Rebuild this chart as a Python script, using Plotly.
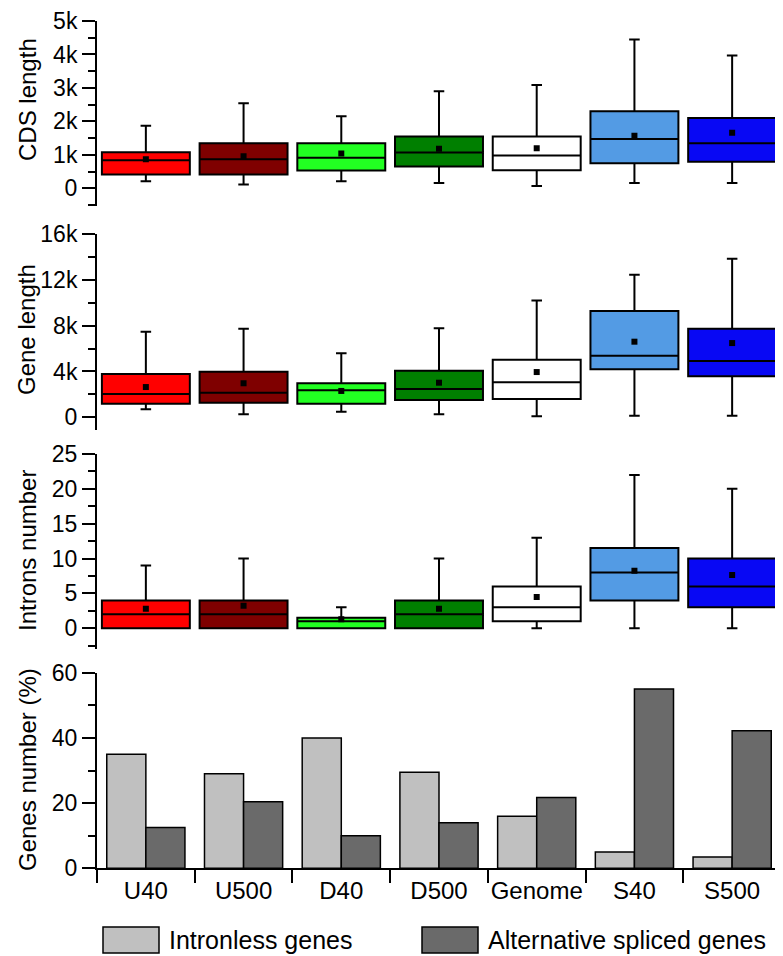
import plotly.graph_objects as go

categories = ["U40", "U500", "D40", "D500", "Genome", "S40", "S500"]
box_colors = ["#FF0000", "#7F0000", "#22FF22", "#007F00", "#FFFFFF", "#539BE4", "#0808F4"]

# CDS length
cds_low = [210, 110, 210, 160, 70, 160, 160]
cds_q1 = [410, 410, 530, 650, 540, 750, 790]
cds_med = [840, 870, 910, 1070, 980, 1470, 1350]
cds_q3 = [1080, 1350, 1350, 1550, 1550, 2300, 2100]
cds_high = [1870, 2540, 2150, 2900, 3090, 4450, 3970]
cds_mean = [870, 960, 1040, 1180, 1200, 1570, 1660]

# Gene length
gene_low = [700, 260, 490, 260, 90, 140, 140]
gene_q1 = [1190, 1270, 1190, 1510, 1600, 4190, 3580]
gene_med = [2030, 2150, 2360, 2470, 3050, 5380, 4910]
gene_q3 = [3780, 3980, 2970, 4070, 5030, 9280, 7730]
gene_high = [7470, 7730, 5580, 7770, 10200, 12440, 13840]
gene_mean = [2640, 2970, 2300, 3020, 3950, 6600, 6480]

# Introns number
intr_low = [0, 0, 0, 0, 0, 0, 0]
intr_q1 = [0, 0, 0, 0, 1, 4, 3]
intr_med = [2, 2, 1, 2, 3, 8, 6]
intr_q3 = [4, 4, 1.5, 4, 6, 11.5, 10]
intr_high = [9, 10, 3, 10, 13, 22, 20]
intr_mean = [2.8, 3.25, 1.3, 2.8, 4.5, 8.27, 7.65]

# Genes number (%)
series_names = ["Intronless genes", "Alternative spliced genes"]
intronless = [35, 29, 40, 29.5, 16, 5, 3.5]
alt_spliced = [12.5, 20.4, 10, 14, 21.7, 55, 42.2]
bar_colors = ["#C0C0C0", "#6A6A6A"]

# tick labels
cds_tickvals = [0, 1000, 2000, 3000, 4000, 5000]
cds_ticktext = ["0", "1k", "2k", "3k", "4k", "5k"]
gene_tickvals = [0, 4000, 8000, 12000, 16000]
gene_ticktext = ["0", "4k", "8k", "12k", "16k"]
intr_tickvals = [0, 5, 10, 15, 20, 25]
pct_tickvals = [0, 20, 40, 60]

OFF = 8  # page body margin
W, H = 783 - OFF, 956 - OFF
L, R = 97 - OFF, 2
PW = W - L - R
FONT = "Liberation Sans, Arial, sans-serif"


def dom(bottom_px, top_px):
    return [(H - (bottom_px - OFF)) / H, (H - (top_px - OFF)) / H]


def px_x(p):
    return (p - OFF - L) / PW


def px_y(p):
    return (H - (p - OFF)) / H


fig = go.Figure()

panels = [
    ("x", "y", cds_low, cds_q1, cds_med, cds_q3, cds_high, cds_mean),
    ("x2", "y2", gene_low, gene_q1, gene_med, gene_q3, gene_high, gene_mean),
    ("x3", "y3", intr_low, intr_q1, intr_med, intr_q3, intr_high, intr_mean),
]

for xa, ya, lo, q1, md, q3, hi, mn in panels:
    for i, c in enumerate(categories):
        fig.add_trace(go.Box(
            x=[c], q1=[q1[i]], median=[md[i]], q3=[q3[i]],
            lowerfence=[lo[i]], upperfence=[hi[i]],
            fillcolor=box_colors[i], line=dict(color="black", width=2),
            width=0.9, whiskerwidth=0.12, boxpoints=False,
            xaxis=xa, yaxis=ya, showlegend=False, hoverinfo="skip",
        ))
    fig.add_trace(go.Scatter(
        x=categories, y=mn, mode="markers",
        marker=dict(symbol="square", size=6, color="black"),
        xaxis=xa, yaxis=ya, showlegend=False, hoverinfo="skip",
    ))

fig.add_trace(go.Bar(x=categories, y=intronless, name=series_names[0],
                     marker=dict(color=bar_colors[0], line=dict(color="black", width=1.5)),
                     xaxis="x4", yaxis="y4", showlegend=False))
fig.add_trace(go.Bar(x=categories, y=alt_spliced, name=series_names[1],
                     marker=dict(color=bar_colors[1], line=dict(color="black", width=1.5)),
                     xaxis="x4", yaxis="y4", showlegend=False))

tickfont = dict(family=FONT, size=23, color="black")

common_y = dict(showline=True, linecolor="black", linewidth=2, ticks="outside",
                ticklen=13, tickwidth=2, tickcolor="black", tickfont=tickfont,
                showgrid=False, zeroline=False, automargin=False,
                ticklabeloverflow="allow")

hidden_x = dict(type="category", categoryarray=categories, categoryorder="array",
                range=[-0.5, 6.5], showline=False, showticklabels=False, ticks="",
                showgrid=False, zeroline=False, domain=[0, 1], automargin=False)

fig.update_layout(
    width=W, height=H,
    margin=dict(l=L, r=R, t=0, b=0, autoexpand=False),
    plot_bgcolor="white", paper_bgcolor="white",
    barmode="group", bargap=0.2, bargroupgap=0,
    boxmode="overlay",
    font=dict(family=FONT, color="black"),
    xaxis=dict(anchor="y", **hidden_x),
    xaxis2=dict(anchor="y2", **hidden_x),
    xaxis3=dict(anchor="y3", **hidden_x),
    xaxis4=dict(anchor="y4", type="category", categoryarray=categories, categoryorder="array",
                range=[-0.5, 6.5], showline=True, linecolor="black", linewidth=2,
                ticks="outside", tickson="boundaries", ticklen=13, tickwidth=2,
                tickcolor="black", tickfont=dict(family=FONT, size=24, color="black"),
                tickangle=0, ticklabeloverflow="allow",
                showgrid=False, zeroline=False, domain=[0, 1], automargin=False),
    yaxis=dict(anchor="x", domain=dom(205.7, 21), range=[-520, 5000],
               tickvals=cds_tickvals, ticktext=cds_ticktext,
               minor=dict(dtick=500, tick0=0, ticks="outside", ticklen=7, tickwidth=2, tickcolor="black"),
               **common_y),
    yaxis2=dict(anchor="x2", domain=dom(429.9, 234), range=[-1100, 16000],
                tickvals=gene_tickvals, ticktext=gene_ticktext,
                minor=dict(dtick=2000, tick0=0, ticks="outside", ticklen=7, tickwidth=2, tickcolor="black"),
                **common_y),
    yaxis3=dict(anchor="x3", domain=dom(649.2, 454), range=[-3, 25],
                tickvals=intr_tickvals,
                minor=dict(dtick=2.5, tick0=0, ticks="outside", ticklen=7, tickwidth=2, tickcolor="black"),
                **common_y),
    yaxis4=dict(anchor="x4", domain=dom(868.3, 672.7), range=[0, 60],
                tickvals=pct_tickvals,
                minor=dict(dtick=10, tick0=0, ticks="outside", ticklen=7, tickwidth=2, tickcolor="black"),
                **common_y),
)

# Y axis titles
titles = [("CDS length", 100), ("Gene length", 330),
          ("Introns number", 551), ("Genes number (%)", 770)]
for t, yc in titles:
    fig.add_annotation(text=t, x=px_x(27), y=px_y(yc), xref="paper", yref="paper",
                       textangle=-90, showarrow=False, xanchor="center", yanchor="middle",
                       font=dict(family=FONT, size=24, color="black"))

# Legend (drawn manually)
legend_items = [(103, 159, 167), (422, 478, 486)]
for (x0, x1, tx), name, col in zip(legend_items, series_names, bar_colors):
    fig.add_shape(type="rect", xref="paper", yref="paper",
                  x0=px_x(x0), x1=px_x(x1), y0=px_y(953), y1=px_y(927),
                  fillcolor=col, line=dict(color="black", width=1.5))
    fig.add_annotation(text=name, x=px_x(tx), y=px_y(940), xref="paper", yref="paper",
                       showarrow=False, xanchor="left", yanchor="middle",
                       font=dict(family=FONT, size=25, color="black"))

fig.write_html("out.html")
